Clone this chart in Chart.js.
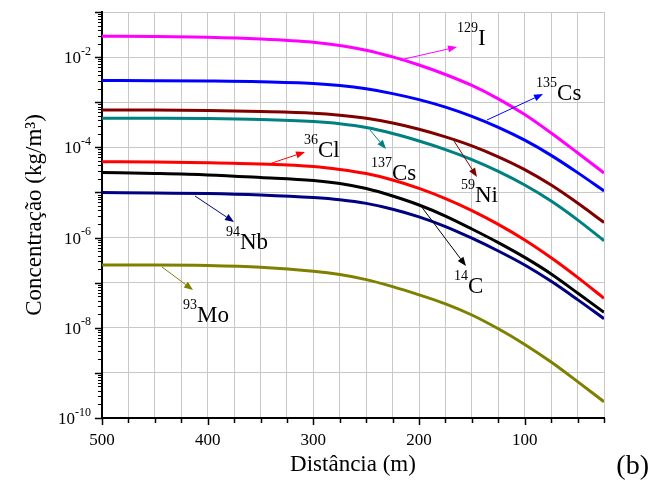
<!DOCTYPE html>
<html>
<head>
<meta charset="utf-8">
<script src="https://cdn.jsdelivr.net/npm/chart.js@4/dist/chart.umd.min.js"></script>
<style>
  html, body { margin: 0; padding: 0; background: #fff; overflow: hidden; }
  canvas { display: block; }
</style>
</head>
<body>
<canvas id="c" width="651" height="483"></canvas>
<script>
// ---- data ----
const distances = [500, 450, 400, 350, 300, 275, 250, 225, 200, 175, 150, 125, 100, 75, 50, 25];

const I129  = [2.89e-2, 2.86e-2, 2.76e-2, 2.52e-2, 2.13e-2, 1.81e-2, 1.42e-2, 1.01e-2, 6.69e-3, 4.12e-3, 2.35e-3, 1.19e-3, 5.34e-4, 2.08e-4, 7.56e-5, 2.70e-5];
const Cs135 = [3.02e-3, 3.00e-3, 2.95e-3, 2.84e-3, 2.59e-3, 2.34e-3, 1.98e-3, 1.55e-3, 1.14e-3, 7.76e-4, 4.85e-4, 2.77e-4, 1.44e-4, 6.63e-5, 2.75e-5, 1.08e-5];
const Ni59  = [6.72e-4, 6.72e-4, 6.56e-4, 6.23e-4, 5.71e-4, 5.16e-4, 4.40e-4, 3.46e-4, 2.52e-4, 1.71e-4, 1.08e-4, 6.17e-5, 3.21e-5, 1.46e-5, 5.83e-6, 2.16e-6];
const Cs137 = [4.40e-4, 4.40e-4, 4.36e-4, 4.16e-4, 3.72e-4, 3.32e-4, 2.74e-4, 2.02e-4, 1.38e-4, 8.91e-5, 5.35e-5, 2.93e-5, 1.46e-5, 6.46e-6, 2.47e-6, 8.51e-7];
const Cl36  = [4.80e-5, 4.73e-5, 4.56e-5, 4.27e-5, 3.76e-5, 3.24e-5, 2.62e-5, 1.89e-5, 1.23e-5, 7.30e-6, 3.96e-6, 1.96e-6, 8.83e-7, 3.56e-7, 1.31e-7, 4.50e-8];
const C14   = [2.77e-5, 2.63e-5, 2.44e-5, 2.14e-5, 1.84e-5, 1.58e-5, 1.22e-5, 8.34e-6, 5.27e-6, 3.00e-6, 1.55e-6, 7.73e-7, 3.63e-7, 1.56e-7, 5.90e-8, 2.20e-8];
const Nb94  = [9.97e-6, 9.72e-6, 9.47e-6, 8.78e-6, 7.68e-6, 6.87e-6, 5.72e-6, 4.25e-6, 2.88e-6, 1.75e-6, 9.67e-7, 5.03e-7, 2.46e-7, 1.07e-7, 4.21e-8, 1.59e-8];
const Mo93  = [2.46e-7, 2.46e-7, 2.40e-7, 2.20e-7, 1.79e-7, 1.51e-7, 1.17e-7, 8.18e-8, 5.38e-8, 3.40e-8, 1.92e-8, 9.49e-9, 4.28e-9, 1.74e-9, 6.41e-10, 2.30e-10];

const xTickLabels = [500, 400, 300, 200, 100];
const yDecades = [1e-10, 1e-9, 1e-8, 1e-7, 1e-6, 1e-5, 1e-4, 1e-3, 1e-2, 1e-1];
const yLabelExponents = ['-2', '-4', '-6', '-8', '-10'];

// annotations: superscript, symbol, arrow from / to, label anchor (data coordinates)
const annotations = [
  { sup: '129', main: 'I',  color: '#FF00FF', from: [218.0, 8.63e-3], to: [164.1, 1.68e-2], at: [164.1, 1.855e-2] },
  { sup: '135', main: 'Cs', color: '#0000FF', from: [135.7, 4.04e-4], to: [82.7, 1.52e-3],  at: [89.3, 1.12e-3] },
  { sup: '59',  main: 'Ni', color: '#800000', from: [166.9, 1.38e-4], to: [145.2, 2.20e-5], at: [160.3, 6.24e-6] },
  { sup: '137', main: 'Cs', color: '#008080', from: [246.4, 2.42e-4], to: [231.3, 9.18e-5], at: [245.5, 1.89e-5] },
  { sup: '36',  main: 'Cl', color: '#FF0000', from: [339.1, 4.50e-5], to: [307.9, 7.88e-5], at: [308.9, 6.19e-5] },
  { sup: '94',  main: 'Nb', color: '#000080', from: [412.0, 8.34e-6], to: [375.1, 2.21e-6], at: [382.7, 5.50e-7] },
  { sup: '14',  main: 'C',  color: '#000000', from: [198.2, 5.01e-6], to: [155.6, 2.34e-7], at: [166.9, 6.00e-8] },
  { sup: '93',  main: 'Mo', color: '#808000', from: [443.2, 2.22e-7], to: [413.9, 6.87e-8], at: [423.4, 1.34e-8] }
];

// ---- build chart ----
const FONT = "'Liberation Serif', 'Times New Roman', serif";
const series = [
  { label: '129I',  data: I129,  color: '#FF00FF' },
  { label: '135Cs', data: Cs135, color: '#0000FF' },
  { label: '59Ni',  data: Ni59,  color: '#800000' },
  { label: '137Cs', data: Cs137, color: '#008080' },
  { label: '36Cl',  data: Cl36,  color: '#FF0000' },
  { label: '14C',   data: C14,   color: '#000000' },
  { label: '94Nb',  data: Nb94,  color: '#000080' },
  { label: '93Mo',  data: Mo93,  color: '#808000' }
];

const datasets = series.map(s => ({
  label: s.label,
  data: distances.map((d, i) => ({ x: d, y: s.data[i] })),
  borderColor: s.color,
  backgroundColor: s.color,
  borderWidth: 3,
  pointRadius: 0,
  fill: false,
  cubicInterpolationMode: 'monotone'
}));

function arrow(ctx, x1, y1, x2, y2, color) {
  const ang = Math.atan2(y2 - y1, x2 - x1);
  const L = 9, W = 3.5;
  const bx = x2 - L * Math.cos(ang), by = y2 - L * Math.sin(ang);
  ctx.strokeStyle = color; ctx.fillStyle = color; ctx.lineWidth = 1;
  ctx.beginPath(); ctx.moveTo(x1, y1); ctx.lineTo(bx, by); ctx.stroke();
  ctx.beginPath();
  ctx.moveTo(x2, y2);
  ctx.lineTo(bx + W * Math.sin(ang), by - W * Math.cos(ang));
  ctx.lineTo(bx - W * Math.sin(ang), by + W * Math.cos(ang));
  ctx.closePath(); ctx.fill();
}

const decor = {
  id: 'decor',
  afterDraw(chart) {
    const { ctx, chartArea: a, scales: { x, y } } = chart;
    ctx.save();
    // x tick marks
    ctx.strokeStyle = '#000'; ctx.lineWidth = 1.5;
    x.ticks.forEach(t => {
      const px = Math.round(x.getPixelForValue(t.value)) + 0.5;
      const len = (t.value % 100 === 0) ? 7 : 5;
      ctx.beginPath(); ctx.moveTo(px, a.bottom); ctx.lineTo(px, a.bottom + len); ctx.stroke();
    });
    // y tick marks (major decades + minor 2..9)
    yDecades.forEach(d => {
      for (let m = 1; m <= 9; m++) {
        const v = m * d;
        if (v > y.max * 1.0001) break;
        const py = Math.round(y.getPixelForValue(v)) + 0.5;
        const len = m === 1 ? 7 : 4;
        ctx.lineWidth = m === 1 ? 1.5 : 1;
        ctx.beginPath(); ctx.moveTo(a.left, py); ctx.lineTo(a.left - len, py); ctx.stroke();
      }
    });
    // y tick labels 10^n
    ctx.fillStyle = '#000';
    ctx.textAlign = 'right';
    ctx.textBaseline = 'alphabetic';
    yLabelExponents.forEach(e => {
      const py = y.getPixelForValue(Math.pow(10, Number(e)));
      const right = a.left - 11;
      ctx.font = '12px ' + FONT;
      ctx.fillText(e, right, py - 2.5);
      const w = ctx.measureText(e).width;
      ctx.font = '17px ' + FONT;
      ctx.fillText('10', right - w, py + 6);
    });
    // annotations
    annotations.forEach(an => {
      arrow(ctx,
        x.getPixelForValue(an.from[0]), y.getPixelForValue(an.from[1]),
        x.getPixelForValue(an.to[0]), y.getPixelForValue(an.to[1]), an.color);
      const lx = x.getPixelForValue(an.at[0]);
      const ly = y.getPixelForValue(an.at[1]);
      ctx.fillStyle = '#000';
      ctx.textAlign = 'left';
      ctx.font = '14px ' + FONT;
      ctx.fillText(an.sup, lx, ly - 13);
      const sw = ctx.measureText(an.sup).width;
      ctx.font = '23px ' + FONT;
      ctx.fillText(an.main, lx + sw, ly);
    });
    // panel tag
    ctx.textAlign = 'right';
    ctx.font = '28px ' + FONT;
    ctx.fillText('(b)', 649, 474);
    ctx.restore();
  }
};

new Chart(document.getElementById('c'), {
  type: 'line',
  data: { datasets },
  options: {
    responsive: false,
    animation: false,
    devicePixelRatio: 1,
    layout: { padding: { left: 0, top: 12, right: 47, bottom: 0 } },
    plugins: { legend: { display: false }, tooltip: { enabled: false } },
    scales: {
      x: {
        type: 'linear',
        reverse: true,
        min: 25,
        max: 500,
        afterBuildTicks: s => {
          const t = [];
          for (let v = 25; v <= 500; v += 25) t.push({ value: v });
          s.ticks = t;
        },
        afterFit: s => { s.height = 65; },
        grid: { color: '#c8c8c8', lineWidth: 1, drawTicks: false },
        border: { display: true, color: '#000', width: 2 },
        ticks: {
          autoSkip: false, maxRotation: 0, padding: 12, color: '#000',
          font: { family: FONT, size: 17 },
          callback: v => xTickLabels.includes(v) ? String(v) : ''
        },
        title: {
          display: true, text: 'Distância (m)', color: '#000',
          font: { family: FONT, size: 23 }, padding: { top: 0, bottom: 4 }
        }
      },
      y: {
        type: 'logarithmic',
        min: 1e-10,
        max: 1e-1,
        afterBuildTicks: s => { s.ticks = yDecades.map(v => ({ value: v })); },
        afterFit: s => { s.width = 102; },
        grid: { color: '#c8c8c8', lineWidth: 1, drawTicks: false },
        border: { display: true, color: '#000', width: 2 },
        ticks: { display: false },
        title: {
          display: true, text: 'Concentração (kg/m³)', color: '#000',
          font: { family: FONT, size: 23 }, padding: { top: 21, bottom: 0 }
        }
      }
    }
  },
  plugins: [decor]
});
</script>
</body>
</html>
